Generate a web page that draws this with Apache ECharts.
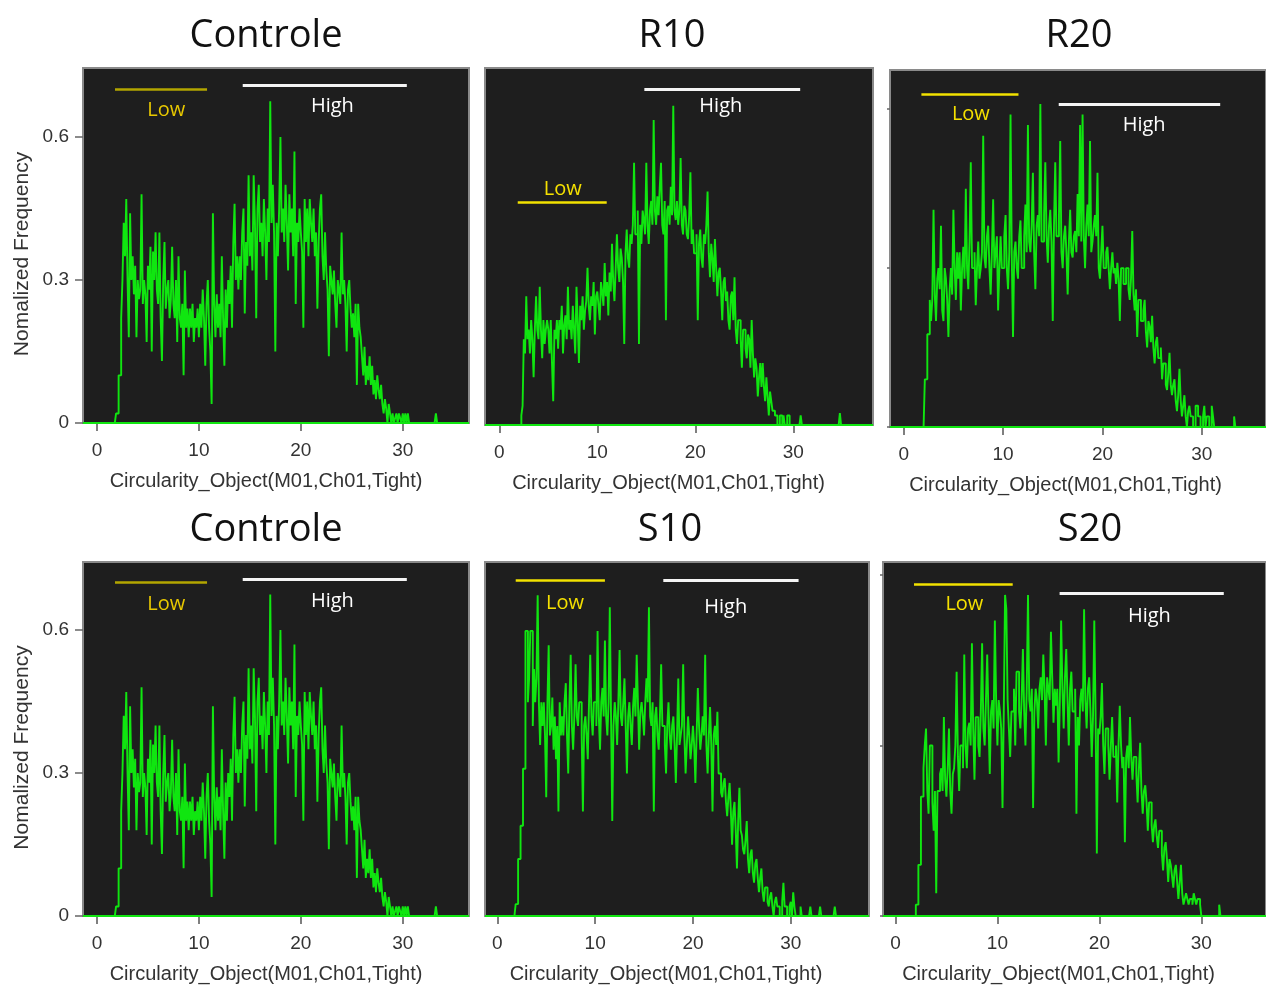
<!DOCTYPE html>
<html>
<head>
<meta charset="utf-8">
<title>Circularity histograms</title>
<script src="https://cdn.jsdelivr.net/npm/echarts@6/dist/echarts.min.js"></script>
<style>
  html, body { margin: 0; padding: 0; background: #ffffff; }
  #main { width: 1266px; height: 985px; }
</style>
</head>
<body>
<div id="main"></div>
<script>
// Histogram bins: first bin starts at binStart, each bin is binStep wide.
const binStart = 1.5;
const binStep = 0.125;

const titles = ['Controle', 'R10', 'R20', 'Controle', 'S10', 'S20'];
const xTicks = [0, 10, 20, 30];
const yTicks = [0, 0.3, 0.6];
const xName = 'Circularity_Object(M01,Ch01,Tight)';
const yName = 'Nomalized Frequency';

// Normalized frequency per bin (one row = one unit of circularity, 8 bins)
const controle = [
  0, 0, 0, 0.02,
  0.02, 0.1, 0.1, 0.22, 0.3, 0.42, 0.35, 0.47,
  0.3, 0.18, 0.44, 0.3, 0.35, 0.27, 0.33, 0.18,
  0.3, 0.26, 0.28, 0.48, 0.25, 0.3, 0.27, 0.17,
  0.33, 0.28, 0.37, 0.15, 0.36, 0.3, 0.4, 0.28,
  0.25, 0.4, 0.22, 0.13, 0.3, 0.38, 0.24, 0.28,
  0.3, 0.22, 0.26, 0.37, 0.25, 0.22, 0.3, 0.17,
  0.35, 0.22, 0.2, 0.25, 0.1, 0.32, 0.2, 0.24,
  0.18, 0.24, 0.2, 0.25, 0.17, 0.22, 0.2, 0.24,
  0.18, 0.25, 0.2, 0.28, 0.22, 0.12, 0.25, 0.3,
  0.2, 0.15, 0.04, 0.44, 0.25, 0.18, 0.27, 0.2,
  0.25, 0.18, 0.35, 0.22, 0.12, 0.28, 0.2, 0.3,
  0.25, 0.33, 0.2, 0.38, 0.46, 0.3, 0.35, 0.28,
  0.35, 0.3, 0.4, 0.45, 0.23, 0.38, 0.33, 0.52,
  0.35, 0.4, 0.32, 0.52, 0.42, 0.22, 0.45, 0.5,
  0.38, 0.42, 0.35, 0.47, 0.4, 0.3, 0.45, 0.38,
  0.675, 0.42, 0.5, 0.4, 0.15, 0.42, 0.35, 0.45,
  0.6, 0.4, 0.45, 0.38, 0.5, 0.42, 0.32, 0.48,
  0.4, 0.45, 0.35, 0.57, 0.25, 0.42, 0.38, 0.45,
  0.4, 0.36, 0.2, 0.47, 0.38, 0.45, 0.35, 0.47,
  0.42, 0.38, 0.45, 0.35, 0.4, 0.24, 0.38, 0.45,
  0.48, 0.35, 0.3, 0.4, 0.32, 0.28, 0.14, 0.33,
  0.3, 0.27, 0.32, 0.25, 0.2, 0.3, 0.28, 0.25,
  0.4, 0.27, 0.3, 0.25, 0.15, 0.28, 0.3, 0.24,
  0.2, 0.23, 0.18, 0.25, 0.08, 0.25, 0.2, 0.18,
  0.14, 0.1, 0.16, 0.08, 0.12, 0.09, 0.14, 0.08,
  0.12, 0.06, 0.09, 0.05, 0.1, 0.07, 0.05, 0.08,
  0.04, 0.02, 0.05, 0.03, 0, 0.04, 0.02, 0,
  0.02, 0, 0.01, 0.02, 0, 0.02, 0.01, 0,
  0.02, 0, 0.02, 0, 0.02, 0, 0, 0,
  0, 0, 0, 0, 0, 0, 0, 0,
  0, 0, 0, 0, 0, 0, 0, 0,
  0, 0, 0.02, 0, 0, 0, 0, 0
];

const r10 = [
  0, 0, 0, 0,
  0, 0, 0.02, 0.04, 0.18, 0.15, 0.27, 0.18,
  0.2, 0.15, 0.22, 0.18, 0.1, 0.2, 0.27, 0.2,
  0.18, 0.29, 0.2, 0.14, 0.22, 0.17, 0.2, 0.22,
  0.2, 0.15, 0.22, 0.13, 0.05, 0.2, 0.18, 0.22,
  0.16, 0.22, 0.2, 0.25, 0.15, 0.21, 0.23, 0.18,
  0.29, 0.2, 0.22, 0.18, 0.25, 0.2, 0.15, 0.29,
  0.22, 0.13, 0.25, 0.22, 0.27, 0.2, 0.24, 0.26,
  0.33, 0.25, 0.22, 0.27, 0.25, 0.3, 0.19, 0.27,
  0.28, 0.25, 0.22, 0.3, 0.28, 0.25, 0.34, 0.27,
  0.3, 0.23, 0.32, 0.28, 0.38, 0.3, 0.26, 0.33,
  0.4, 0.33, 0.3, 0.37, 0.35, 0.3, 0.17, 0.36,
  0.41, 0.35, 0.33, 0.4, 0.38, 0.42, 0.55, 0.4,
  0.4, 0.45, 0.17, 0.42, 0.38, 0.45, 0.43, 0.4,
  0.55, 0.42, 0.38, 0.45, 0.47, 0.42, 0.64, 0.45,
  0.42, 0.48, 0.44, 0.5, 0.55, 0.42, 0.4, 0.47,
  0.22, 0.45, 0.46, 0.42, 0.5, 0.44, 0.67, 0.45,
  0.43, 0.47, 0.42, 0.45, 0.56, 0.42, 0.4, 0.46,
  0.45, 0.4, 0.39, 0.44, 0.53, 0.38, 0.41, 0.36,
  0.36, 0.4, 0.22, 0.38, 0.41, 0.35, 0.33, 0.4,
  0.38, 0.42, 0.49, 0.36, 0.31, 0.38, 0.35, 0.3,
  0.39, 0.33, 0.27, 0.32, 0.33, 0.28, 0.22, 0.3,
  0.31, 0.26, 0.28, 0.22, 0.2, 0.27, 0.28, 0.22,
  0.31, 0.2, 0.17, 0.22, 0.22, 0.18, 0.12, 0.2,
  0.2, 0.16, 0.14, 0.19, 0.18, 0.12, 0.22, 0.15,
  0.1, 0.14, 0.12, 0.06, 0.1, 0.13, 0.08, 0.13,
  0.08, 0.05, 0.1, 0.06, 0.02, 0.07, 0.05, 0.03,
  0.03, 0.02, 0.02, 0, 0, 0.02, 0.02, 0,
  0.02, 0, 0, 0.02, 0.02, 0, 0, 0,
  0, 0, 0, 0, 0, 0, 0.02, 0,
  0, 0, 0, 0, 0, 0, 0, 0,
  0, 0, 0, 0, 0, 0, 0, 0,
  0, 0, 0, 0, 0, 0, 0, 0,
  0, 0, 0, 0, 0, 0, 0.025, 0
];

const r20 = [
  0, 0, 0, 0,
  0, 0.09, 0.09, 0.175, 0.175, 0.24, 0.2, 0.24,
  0.41, 0.25, 0.2, 0.28, 0.3, 0.26, 0.38, 0.22,
  0.2, 0.3, 0.28, 0.24, 0.17, 0.26, 0.3, 0.25,
  0.41, 0.3, 0.24, 0.33, 0.28, 0.33, 0.22, 0.3,
  0.34, 0.28, 0.45, 0.3, 0.26, 0.35, 0.5, 0.3,
  0.3, 0.33, 0.23, 0.3, 0.35, 0.28, 0.3, 0.33,
  0.55, 0.32, 0.3, 0.36, 0.38, 0.3, 0.25, 0.33,
  0.43, 0.3, 0.33, 0.36, 0.22, 0.3, 0.36, 0.3,
  0.3, 0.36, 0.4, 0.3, 0.26, 0.33, 0.59, 0.32,
  0.17, 0.33, 0.35, 0.3, 0.28, 0.36, 0.39, 0.3,
  0.3, 0.36, 0.42, 0.33, 0.57, 0.35, 0.33, 0.38,
  0.48, 0.33, 0.26, 0.38, 0.4, 0.36, 0.61, 0.35,
  0.35, 0.4, 0.5, 0.36, 0.31, 0.38, 0.41, 0.35,
  0.2, 0.38, 0.5, 0.36, 0.36, 0.4, 0.54, 0.33,
  0.3, 0.36, 0.38, 0.33, 0.25, 0.35, 0.41, 0.33,
  0.32, 0.36, 0.37, 0.33, 0.44, 0.36, 0.57, 0.35,
  0.59, 0.36, 0.3, 0.38, 0.42, 0.36, 0.54, 0.33,
  0.35, 0.38, 0.4, 0.36, 0.48, 0.3, 0.28, 0.33,
  0.38, 0.3, 0.3, 0.33, 0.34, 0.3, 0.26, 0.3,
  0.33, 0.29, 0.3, 0.27, 0.31, 0.28, 0.2, 0.3,
  0.3, 0.27, 0.27, 0.3, 0.3, 0.26, 0.24, 0.28,
  0.37, 0.25, 0.22, 0.26, 0.17, 0.24, 0.24, 0.2,
  0.2, 0.22, 0.24, 0.18, 0.15, 0.2, 0.19, 0.16,
  0.21, 0.15, 0.12, 0.16, 0.17, 0.13, 0.13, 0.15,
  0.09, 0.12, 0.12, 0.08, 0.07, 0.1, 0.14, 0.08,
  0.06, 0.08, 0.09, 0.05, 0.03, 0.06, 0.11, 0.05,
  0.02, 0.04, 0.06, 0.02, 0, 0.03, 0.04, 0.02,
  0.02, 0, 0, 0.04, 0.04, 0.02, 0.02, 0,
  0, 0.02, 0.04, 0, 0.02, 0.02, 0, 0,
  0.04, 0.02, 0, 0, 0, 0, 0, 0,
  0, 0, 0, 0, 0, 0, 0, 0,
  0, 0, 0.02, 0, 0, 0, 0, 0
];

const s10 = [
  0, 0, 0, 0.025,
  0.025, 0.12, 0.12, 0.19, 0.19, 0.31, 0.31, 0.6,
  0.6, 0.45, 0.5, 0.6, 0.6, 0.4, 0.52, 0.45,
  0.5, 0.675, 0.45, 0.36, 0.45, 0.4, 0.45, 0.38,
  0.25, 0.45, 0.57, 0.38, 0.4, 0.46, 0.35, 0.42,
  0.33, 0.4, 0.22, 0.45, 0.38, 0.42, 0.38, 0.45,
  0.49, 0.38, 0.3, 0.45, 0.55, 0.4, 0.35, 0.42,
  0.53, 0.42, 0.4, 0.45, 0.45, 0.38, 0.22, 0.4,
  0.42, 0.38, 0.33, 0.45, 0.55, 0.42, 0.38, 0.45,
  0.45, 0.4, 0.6, 0.42, 0.35, 0.45, 0.48, 0.42,
  0.58, 0.42, 0.38, 0.45, 0.65, 0.42, 0.2, 0.4,
  0.45, 0.42, 0.36, 0.45, 0.56, 0.42, 0.4, 0.45,
  0.5, 0.4, 0.3, 0.42, 0.45, 0.4, 0.36, 0.44,
  0.48, 0.42, 0.55, 0.45, 0.35, 0.43, 0.45, 0.42,
  0.38, 0.45, 0.5, 0.45, 0.65, 0.42, 0.4, 0.45,
  0.22, 0.42, 0.44, 0.38, 0.35, 0.42, 0.53, 0.4,
  0.4, 0.36, 0.3, 0.4, 0.45, 0.38, 0.35, 0.4,
  0.42, 0.36, 0.28, 0.38, 0.5, 0.36, 0.38, 0.4,
  0.53, 0.38, 0.3, 0.36, 0.42, 0.38, 0.33, 0.36,
  0.4, 0.36, 0.28, 0.38, 0.48, 0.4, 0.35, 0.38,
  0.42, 0.38, 0.55, 0.36, 0.3, 0.38, 0.44, 0.36,
  0.22, 0.38, 0.4, 0.36, 0.43, 0.3, 0.3, 0.26,
  0.25, 0.28, 0.29, 0.24, 0.21, 0.25, 0.28, 0.22,
  0.15, 0.22, 0.24, 0.18, 0.1, 0.2, 0.27, 0.18,
  0.17, 0.14, 0.13, 0.16, 0.2, 0.12, 0.09, 0.13,
  0.14, 0.09, 0.07, 0.11, 0.12, 0.08, 0.05, 0.08,
  0.1, 0.05, 0.03, 0.06, 0.06, 0.03, 0.02, 0.04,
  0.05, 0.02, 0, 0.03, 0.04, 0.02, 0.02, 0,
  0, 0.03, 0.07, 0.02, 0.02, 0, 0, 0.02,
  0.03, 0, 0.05, 0.02, 0, 0, 0, 0,
  0.02, 0, 0, 0, 0, 0, 0, 0,
  0.02, 0, 0, 0, 0, 0, 0, 0,
  0.02, 0, 0, 0, 0, 0, 0, 0,
  0, 0, 0, 0, 0.02, 0, 0, 0
];

const s20 = [
  0, 0, 0, 0,
  0.02, 0.02, 0.09, 0.09, 0.21, 0.21, 0.26, 0.3,
  0.33, 0.22, 0.18, 0.3, 0.3, 0.2, 0.15, 0.22,
  0.04, 0.22, 0.22, 0.25, 0.26, 0.22, 0.35, 0.24,
  0.21, 0.26, 0.33, 0.22, 0.18, 0.25, 0.26, 0.3,
  0.43, 0.28, 0.22, 0.3, 0.3, 0.26, 0.46, 0.3,
  0.26, 0.33, 0.34, 0.3, 0.48, 0.33, 0.24, 0.35,
  0.35, 0.3, 0.28, 0.36, 0.48, 0.33, 0.3, 0.38,
  0.46, 0.35, 0.25, 0.36, 0.38, 0.33, 0.52, 0.38,
  0.3, 0.38, 0.36, 0.33, 0.19, 0.36, 0.565, 0.54,
  0.38, 0.33, 0.28, 0.36, 0.36, 0.4, 0.3, 0.43,
  0.43, 0.36, 0.33, 0.38, 0.47, 0.36, 0.3, 0.4,
  0.565, 0.38, 0.36, 0.4, 0.19, 0.36, 0.4, 0.38,
  0.33, 0.4, 0.42, 0.38, 0.46, 0.4, 0.3, 0.42,
  0.4, 0.38, 0.5, 0.42, 0.34, 0.4, 0.37, 0.4,
  0.27, 0.38, 0.52, 0.4, 0.33, 0.42, 0.47, 0.38,
  0.3, 0.4, 0.43, 0.36, 0.36, 0.4, 0.18, 0.35,
  0.3, 0.38, 0.4, 0.36, 0.54, 0.38, 0.33, 0.4,
  0.42, 0.36, 0.28, 0.35, 0.52, 0.36, 0.11, 0.33,
  0.32, 0.35, 0.41, 0.3, 0.25, 0.33, 0.33, 0.3,
  0.24, 0.3, 0.35, 0.28, 0.28, 0.3, 0.2, 0.3,
  0.37, 0.3, 0.26, 0.28, 0.13, 0.28, 0.3, 0.26,
  0.35, 0.28, 0.24, 0.28, 0.28, 0.25, 0.2, 0.26,
  0.305, 0.22, 0.18, 0.22, 0.23, 0.2, 0.15, 0.2,
  0.2, 0.16, 0.13, 0.16, 0.17, 0.14, 0.12, 0.15,
  0.15, 0.11, 0.08, 0.12, 0.13, 0.1, 0.06, 0.1,
  0.09, 0.07, 0.05, 0.08, 0.09, 0.06, 0.03, 0.06,
  0.09, 0.04, 0.02, 0.03, 0.04, 0.03, 0.02, 0.03,
  0.03, 0.02, 0.04, 0.03, 0.02, 0.03, 0.03, 0.02,
  0, 0, 0, 0, 0, 0, 0, 0,
  0, 0, 0, 0, 0, 0, 0.02, 0,
  0
];

// Gate bars ("Low" / "High") in data units: x0..x1 at height y, label centre (tx, ty)
const lowGates = [
  { x0: 1.77, x1: 10.8, y: 0.70, tx: 6.8, ty: 0.657 },
  { x0: 1.88, x1: 10.96, y: 0.468, tx: 6.47, ty: 0.494 },
  { x0: 1.78, x1: 11.55, y: 0.629, tx: 6.76, ty: 0.59 },
  { x0: 1.77, x1: 10.8, y: 0.70, tx: 6.8, ty: 0.655 },
  { x0: 1.88, x1: 11.0, y: 0.706, tx: 6.92, ty: 0.659 },
  { x0: 1.82, x1: 11.5, y: 0.584, tx: 6.76, ty: 0.548 }
];
const highGates = [
  { x0: 14.3, x1: 30.4, y: 0.709, tx: 23.1, ty: 0.665 },
  { x0: 14.8, x1: 30.7, y: 0.705, tx: 22.6, ty: 0.669 },
  { x0: 15.6, x1: 31.85, y: 0.609, tx: 24.2, ty: 0.57 },
  { x0: 14.3, x1: 30.4, y: 0.706, tx: 23.1, ty: 0.661 },
  { x0: 16.97, x1: 30.8, y: 0.706, tx: 23.35, ty: 0.65 },
  { x0: 16.1, x1: 32.2, y: 0.568, tx: 24.9, ty: 0.527 }
];

const seriesData = [controle, r10, r20, controle, s10, s20];

// Panel frames (pixels) and axis extents
const panels = [
  { left: 83,  top: 68,  width: 386, height: 355, xMin: -1.37, xMax: 36.5,  yMax: 0.745, yMode: 'full',  titleX: 261,  titleY: 12,  nameShift: 20, lowLine: '#b3a600', lowText: '#e8c800' },
  { left: 485, top: 68,  width: 388, height: 357, xMin: -1.46, xMax: 38.13, yMax: 0.749, yMode: 'none',  titleX: 667,  titleY: 12,  nameShift: 21, lowLine: '#f2e200', lowText: '#f5e000' },
  { left: 890, top: 70,  width: 392, height: 357, xMin: -1.38, xMax: 36.46, yMax: 0.674, yMode: 'ticks', titleX: 1074, titleY: 12,  nameShift: 25, lowLine: '#f2e200', lowText: '#f5e000' },
  { left: 83,  top: 562, width: 386, height: 354, xMin: -1.37, xMax: 36.5,  yMax: 0.743, yMode: 'full',  titleX: 261,  titleY: 506, nameShift: 20, lowLine: '#b3a600', lowText: '#e8c800' },
  { left: 485, top: 562, width: 384, height: 355, xMin: -1.26, xMax: 38.0,  yMax: 0.745, yMode: 'none',  titleX: 665,  titleY: 506, nameShift: 22, lowLine: '#f2e200', lowText: '#f5e000' },
  { left: 883, top: 562, width: 400, height: 356, xMin: -1.22, xMax: 36.34, yMax: 0.623, yMode: 'ticks', titleX: 1085, titleY: 506, nameShift: 32, lowLine: '#f2e200', lowText: '#f5e000' }
];

const axisFont = '"Liberation Sans", Arial, sans-serif';
const titleFont = '"Open Sans", "Noto Sans", sans-serif';
const green = '#10e610';

function toPoints(values) {
  return values.map((v, i) => [binStart + i * binStep, v]);
}

const option = {
  backgroundColor: '#ffffff',
  animation: false,
  title: [],
  grid: [],
  xAxis: [],
  yAxis: [],
  series: []
};

panels.forEach((p, i) => {
  option.title.push({
    text: titles[i],
    left: p.titleX,
    top: p.titleY,
    textAlign: 'center',
    textStyle: { fontFamily: titleFont, fontSize: 38, fontWeight: 'normal', color: '#111' }
  });

  option.grid.push({
    left: p.left, top: p.top, width: p.width, height: p.height,
    show: true,
    backgroundColor: '#1e1e1e',
    borderColor: '#8a8a8a',
    borderWidth: 2
  });

  option.xAxis.push({
    gridIndex: i,
    type: 'value',
    min: p.xMin,
    max: p.xMax,
    axisLine: { show: false, onZero: false },
    splitLine: { show: false },
    axisTick: { show: true, customValues: xTicks, length: 8, lineStyle: { color: '#555', width: 1.5 } },
    axisLabel: { customValues: xTicks, fontSize: 19, color: '#333', margin: 18, fontFamily: axisFont },
    name: xName,
    nameLocation: 'middle',
    nameGap: 48,
    nameTextStyle: { fontSize: 20, color: '#333', fontFamily: axisFont, padding: [0, p.nameShift, 0, 0] }
  });

  const full = p.yMode === 'full';
  option.yAxis.push({
    gridIndex: i,
    type: 'value',
    min: 0,
    max: p.yMax,
    axisLine: { show: false, onZero: false },
    splitLine: { show: false },
    axisTick: {
      show: p.yMode !== 'none',
      customValues: yTicks,
      length: full ? 8 : 3,
      lineStyle: { color: '#666', width: 1.5 }
    },
    axisLabel: {
      show: full,
      customValues: yTicks,
      fontSize: 19,
      color: '#333',
      margin: 14,
      fontFamily: axisFont
    },
    name: full ? yName : '',
    nameLocation: 'middle',
    nameGap: 50,
    nameTextStyle: { fontSize: 21, color: '#333', fontFamily: axisFont, padding: [0, 17, 0, 0] }
  });

  const lo = lowGates[i];
  const hi = highGates[i];
  option.series.push({
    type: 'line',
    xAxisIndex: i,
    yAxisIndex: i,
    step: 'end',
    symbol: 'none',
    clip: true,
    data: toPoints(seriesData[i]),
    lineStyle: { color: green, width: 1.9 },
    markLine: {
      silent: true,
      symbol: 'none',
      animation: false,
      label: { show: false },
      data: [
        { yAxis: 0, lineStyle: { color: green, width: 2, type: 'solid' } },
        [
          { coord: [lo.x0, lo.y], lineStyle: { color: p.lowLine, width: 2.5, type: 'solid' } },
          { coord: [lo.x1, lo.y] }
        ],
        [
          { coord: [hi.x0, hi.y], lineStyle: { color: '#f4f4f4', width: 3, type: 'solid' } },
          { coord: [hi.x1, hi.y] }
        ]
      ]
    },
    markPoint: {
      silent: true,
      animation: false,
      symbol: 'rect',
      symbolSize: 1,
      itemStyle: { color: 'rgba(0,0,0,0)' },
      label: { show: true, position: 'inside', fontSize: 20, fontFamily: titleFont },
      data: [
        { coord: [lo.tx, lo.ty], label: { formatter: 'Low', color: p.lowText } },
        { coord: [hi.tx, hi.ty], label: { formatter: 'High', color: '#ffffff' } }
      ]
    }
  });
});

const chart = echarts.init(document.getElementById('main'), null, { renderer: 'canvas' });
chart.setOption(option);
</script>
</body>
</html>
